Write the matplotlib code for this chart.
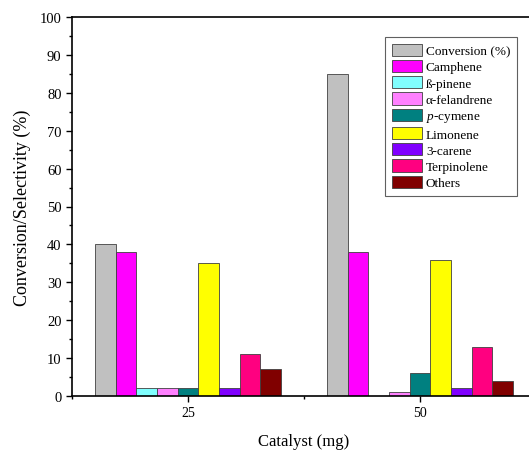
import numpy as np
import matplotlib
matplotlib.use('Agg')
import matplotlib.pyplot as plt
from matplotlib.ticker import MultipleLocator

plt.rcParams['font.family'] = ['Liberation Serif', 'DejaVu Serif']
plt.rcParams['mathtext.fontset'] = 'custom'
plt.rcParams['mathtext.it'] = 'Liberation Serif:italic'
plt.rcParams['mathtext.rm'] = 'Liberation Serif'

# Dane
catalyst = ['25', '50']
series = ['Conversion (%)', 'Camphene', 'ß-pinene', 'α-felandrene', '$p$-cymene',
          'Limonene', '3-carene', 'Terpinolene', 'Others']
values_25 = [40, 38, 2, 2, 2, 35, 2, 11, 7]
values_50 = [85, 38, 0, 1, 6, 36, 2, 13, 4]
colors = ['#C0C0C0', '#FF00FF', '#80FFFF', '#FF80FF', '#008080',
          '#FFFF00', '#8000FF', '#FF0080', '#800000']

fig = plt.figure(figsize=(5.29, 4.52), dpi=100)
ax = fig.add_axes([72/529, 1 - 397/452, 464/529, 379/452])

x = np.arange(1, len(catalyst) + 1)
n = len(series)
w = 0.8 / n
data = np.array([values_25, values_50])
for i in range(n):
    ax.bar(x - 0.4 + w * (i + 0.5), data[:, i], width=w, color=colors[i],
           edgecolor='#404040', linewidth=0.6, label=series[i])

ax.set_xlim(0.5, 2.5)
ax.set_ylim(0, 100)
ax.set_xticks(x)
ax.set_xticklabels(catalyst)
ax.xaxis.set_minor_locator(MultipleLocator(0.5))
ax.yaxis.set_major_locator(MultipleLocator(10))
ax.yaxis.set_minor_locator(MultipleLocator(5))
ax.tick_params(which='both', direction='out', labelsize=10, width=1, colors='black')
ax.tick_params(axis='y', labelsize=10.5)
ax.tick_params(which='major', length=4)
ax.tick_params(which='minor', length=2.5)
for s in ax.spines.values():
    s.set_linewidth(1.2)

ax.set_xlabel('Catalyst (mg)', fontsize=12, labelpad=10)
ax.set_ylabel('Conversion/Selectivity (%)', fontsize=13, labelpad=6)

leg = ax.legend(loc='upper left', bbox_to_anchor=(385/529, 1 - 38/452),
                bbox_transform=fig.transFigure, fontsize=9.5, fancybox=False,
                edgecolor='#606060', framealpha=1, handlelength=2.3,
                handleheight=1.05, labelspacing=0.2, handletextpad=0.3,
                borderpad=0.5, borderaxespad=0)
leg.get_frame().set_linewidth(0.8)

fig.savefig('out.png', dpi=100)
